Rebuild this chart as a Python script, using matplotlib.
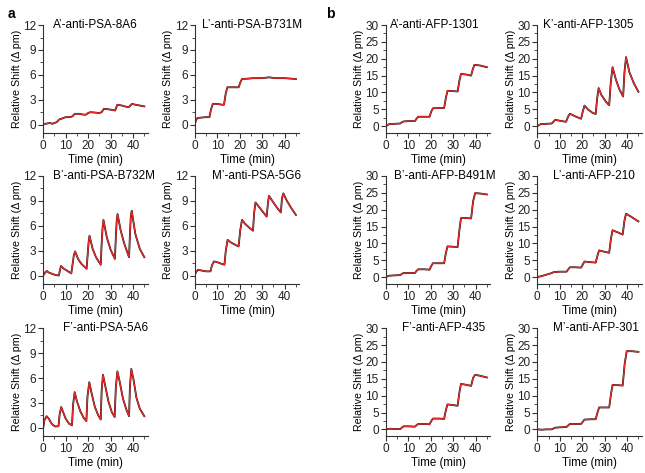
import matplotlib
matplotlib.use('Agg')
import matplotlib.pyplot as plt
from matplotlib.ticker import MultipleLocator

plt.rcParams['font.family'] = ['Liberation Sans', 'DejaVu Sans']

# ---- panel a: PSA antibodies (time in min, shift in pm) ----
t_psa_8a6 = [0, 1, 2, 3, 4, 5, 6, 7, 8, 10, 12, 13, 14, 16, 18, 19, 20, 21, 23, 25, 26, 27,
             29, 31, 32, 33, 35, 37, 38, 39.5, 41, 43, 45]
y_psa_8a6 = [0.0, 0.1, 0.15, 0.2, 0.1, 0.2, 0.3, 0.6, 0.7, 0.9, 0.9, 1.0, 1.3, 1.3, 1.2, 1.2, 1.4, 1.5, 1.45, 1.4, 1.5, 1.9,
             1.85, 1.75, 1.7, 2.4, 2.3, 2.15, 2.1, 2.5, 2.4, 2.3, 2.2]

t_psa_b731m = [0, 0.5, 1.2, 3, 5, 6.5, 7.2, 8, 10, 12, 13, 13.8, 14.5, 17, 19.5, 20.3, 21, 24, 26, 30, 33, 36, 40, 45]
y_psa_b731m = [0.0, 0.5, 0.8, 0.85, 0.9, 0.9, 1.8, 2.5, 2.5, 2.4, 2.4, 3.8, 4.5, 4.5, 4.5, 5.1, 5.5, 5.55, 5.6, 5.6, 5.7, 5.6, 5.6, 5.5]

t_psa_b732m = [0, 1, 1.6, 2.5, 4, 5.5, 7, 7.4, 7.9, 9, 10.5, 12.5, 13.2, 13.6, 14.2, 15.5, 17, 19.3, 19.8, 20.2, 20.6,
               22, 23.5, 25.6, 26.0, 26.4, 26.8, 28.3, 30, 31.9, 32.3, 32.7, 33.1, 34.5, 36, 38.2, 38.6, 39.0, 39.4,
               41, 43, 45]
y_psa_b732m = [0.0, 0.4, 0.55, 0.35, 0.2, 0.05, 0.0, 0.6, 1.15, 0.85, 0.6, 0.25, 1.6, 2.4, 2.9, 2.0, 1.4, 0.8, 2.6, 4.0, 4.8,
               3.2, 2.2, 1.3, 3.8, 5.7, 6.7, 4.6, 3.1, 2.0, 4.5, 6.6, 7.4, 5.4, 3.9, 2.2, 5.0, 7.2, 7.8,
               5.0, 3.2, 2.2]

t_psa_5g6 = [0, 0.5, 1.5, 3, 5, 7, 7.6, 8.5, 10, 12, 13.2, 13.8, 14.6, 16, 18, 19.5, 20.2, 21, 22.5, 24.5, 25.9,
             26.4, 27, 28.5, 30.5, 32, 32.5, 33, 34.5, 36.5, 38.3, 38.8, 39.4, 41, 43, 45]
y_psa_5g6 = [0.0, 0.4, 0.7, 0.6, 0.5, 0.5, 1.2, 1.7, 1.6, 1.4, 1.3, 3.0, 4.3, 4.0, 3.7, 3.5, 5.4, 6.7, 6.2, 5.7, 5.4,
             7.5, 8.8, 8.3, 7.6, 7.1, 8.6, 9.6, 9.0, 8.2, 7.6, 9.3, 9.9, 9.0, 8.1, 7.3]

t_psa_5a6 = [0, 0.5, 1.5, 2.5, 3.5, 4.5, 5.5, 6.8, 7.3, 8, 9, 10, 11.5, 12.8, 13.3, 14, 15, 16.5, 18, 19.2, 19.7,
             20.5, 21.5, 23, 24.5, 25.6, 26.0, 26.6, 27.5, 29, 30.5, 31.8, 32.3, 33, 34, 35.5, 37, 38.2, 38.6,
             39.2, 40.2, 41.5, 43, 45]
y_psa_5a6 = [0.0, 0.9, 1.4, 1.1, 0.6, 0.3, 0.15, 0.2, 1.6, 2.5, 1.8, 1.1, 0.5, 0.3, 2.8, 4.3, 3.2, 2.0, 1.2, 0.8, 3.8,
             5.5, 4.2, 2.5, 1.5, 1.0, 4.5, 6.4, 5.2, 3.2, 1.9, 1.3, 4.8, 6.8, 5.6, 3.5, 2.2, 1.4, 5.0,
             7.1, 5.8, 3.6, 2.3, 1.4]

# ---- panel b: AFP antibodies ----
t_afp_1301 = [0, 1.5, 4, 6.5, 7.3, 8, 10, 13, 13.8, 14.5, 17, 19.5, 20.3, 21, 24, 26, 26.8, 27.5, 30, 32,
              32.8, 33.5, 36, 38, 38.8, 39.5, 42, 45]
y_afp_1301 = [0.0, 0.6, 0.7, 0.8, 1.2, 1.4, 1.5, 1.5, 2.3, 2.8, 2.8, 2.8, 4.4, 5.3, 5.4, 5.4, 8.5, 10.5, 10.4, 10.3,
              13.5, 15.5, 15.3, 15.0, 17.0, 18.2, 18.0, 17.5]

t_afp_1305 = [0, 1.5, 4, 6.5, 7.3, 8, 10, 12.8, 13.7, 14.5, 16, 18, 19.5, 20.3, 21, 22.5, 24.5, 26, 26.6, 27.3,
              28.5, 30.5, 32, 32.7, 33.5, 35, 36.5, 38.2, 38.8, 39.5, 41, 43, 45]
y_afp_1305 = [0.0, 0.6, 0.7, 0.8, 1.4, 1.9, 1.6, 1.3, 2.8, 3.7, 3.2, 2.6, 2.2, 4.5, 6.1, 5.0, 4.0, 3.6, 8.0, 11.3,
              9.3, 7.3, 6.2, 13.0, 17.5, 13.8, 11.0, 8.8, 16.0, 20.5, 16.0, 12.7, 10.2]

t_afp_b491m = [0, 1.5, 4, 6.5, 7.3, 8, 10, 13, 13.8, 14.5, 17, 19.5, 20.3, 21, 24, 26, 26.8, 27.5, 30, 32,
               32.8, 33.5, 36, 38, 38.9, 39.8, 42, 45]
y_afp_b491m = [0.0, 0.4, 0.5, 0.6, 1.0, 1.2, 1.2, 1.2, 1.9, 2.3, 2.3, 2.2, 3.3, 4.1, 4.1, 4.1, 7.2, 9.1, 9.0, 8.9,
               14.0, 17.5, 17.5, 17.4, 22.5, 24.9, 24.8, 24.5]

t_afp_210 = [0, 2, 4, 6, 7.5, 10, 13, 13.8, 14.5, 17, 19.5, 20.3, 21, 24, 26, 26.8, 27.5, 30, 32,
             32.8, 33.5, 36, 38, 38.8, 39.5, 42, 45]
y_afp_210 = [0.0, 0.3, 0.7, 1.1, 1.5, 1.6, 1.6, 2.3, 2.9, 2.9, 2.8, 3.8, 4.6, 4.4, 4.3, 6.4, 7.9, 7.5, 7.2,
             11.5, 13.9, 13.2, 12.6, 16.8, 18.8, 17.8, 16.5]

t_afp_435 = [0, 2, 4, 6.5, 7.3, 8, 10, 13, 13.8, 14.5, 17, 19.5, 20.3, 21, 24, 26, 26.8, 27.5, 30, 32,
             32.8, 33.5, 36, 38, 38.9, 39.8, 42, 45]
y_afp_435 = [0.0, 0.2, 0.1, 0.1, 0.6, 0.9, 0.9, 0.8, 1.3, 1.6, 1.6, 1.5, 2.5, 3.2, 3.2, 3.1, 5.8, 7.4, 7.2, 7.0,
             11.0, 13.5, 13.2, 12.9, 15.3, 16.2, 15.9, 15.4]

t_afp_301 = [0, 2, 4, 6.5, 7.3, 8, 10, 13, 13.8, 14.5, 17, 19.5, 20.3, 21, 24, 26, 26.8, 27.5, 30, 32,
             32.8, 33.5, 36, 38, 38.9, 39.8, 42, 45]
y_afp_301 = [0.0, -0.1, 0.0, 0.0, 0.3, 0.5, 0.6, 0.7, 1.2, 1.6, 1.6, 1.6, 2.3, 2.9, 3.0, 3.0, 5.0, 6.5, 6.5, 6.5,
             10.5, 13.2, 13.1, 13.0, 19.5, 23.2, 23.2, 23.0]

titles = ['A\u2019-anti-PSA-8A6', 'L\u2019-anti-PSA-B731M', 'B\u2019-anti-PSA-B732M', 'M\u2019-anti-PSA-5G6',
          'F\u2019-anti-PSA-5A6',
          'A\u2019-anti-AFP-1301', 'K\u2019-anti-AFP-1305', 'B\u2019-anti-AFP-B491M', 'L\u2019-anti-AFP-210',
          'F\u2019-anti-AFP-435', 'M\u2019-anti-AFP-301']
series = [(t_psa_8a6, y_psa_8a6), (t_psa_b731m, y_psa_b731m), (t_psa_b732m, y_psa_b732m),
          (t_psa_5g6, y_psa_5g6), (t_psa_5a6, y_psa_5a6),
          (t_afp_1301, y_afp_1301), (t_afp_1305, y_afp_1305), (t_afp_b491m, y_afp_b491m),
          (t_afp_210, y_afp_210), (t_afp_435, y_afp_435), (t_afp_301, y_afp_301)]

# axes positions in figure fraction (left, bottom)
cols_x = [0.067, 0.302, 0.598, 0.833]
rows_y = [0.719, 0.400, 0.078]
slots = [(0, 0), (0, 1), (1, 0), (1, 1), (2, 0),
         (0, 2), (0, 3), (1, 2), (1, 3), (2, 2), (2, 3)]
w, h = 0.162, 0.228
# left edge of each panel title, as a fraction of axes width
title_x = [0.09, 0.07, 0.09, 0.16, 0.19, 0.04, 0.05, 0.08, 0.15, 0.16, 0.15]

fig = plt.figure(figsize=(6.45, 4.73), dpi=100)

for i, ((r, c), title, (t, y)) in enumerate(zip(slots, titles, series)):
    ax = fig.add_axes([cols_x[c], rows_y[r], w, h])
    ax.plot(t, y, color='#111111', lw=1.3)
    ax.plot(t, y, color='#ee2a2a', lw=0.9)
    ax.set_xlim(0, 46.5)
    if i < 5:
        ax.set_ylim(-1, 12)
        ax.yaxis.set_major_locator(MultipleLocator(3))
        ax.yaxis.set_minor_locator(MultipleLocator(1.5))
    else:
        ax.set_ylim(-2, 30)
        ax.yaxis.set_major_locator(MultipleLocator(5))
        ax.yaxis.set_minor_locator(MultipleLocator(2.5))
    ax.xaxis.set_major_locator(MultipleLocator(10))
    ax.xaxis.set_minor_locator(MultipleLocator(5))
    for s in ['top', 'right']:
        ax.spines[s].set_visible(False)
    for s in ['left', 'bottom']:
        ax.spines[s].set_linewidth(0.8)
        ax.spines[s].set_color('#333333')
    ax.tick_params(which='major', direction='out', length=3.5, width=0.8, labelsize=8.5, pad=1.5, colors='#333333')
    ax.tick_params(which='minor', direction='out', length=2, width=0.6, colors='#333333')
    ax.tick_params(labelcolor='#222222')
    ax.set_xlabel('Time (min)', fontsize=8.3, labelpad=1.5)
    ax.set_ylabel('Relative Shift (\u0394 pm)', fontsize=7.7, labelpad=1)
    ax.text(title_x[i], 1.0, title, transform=ax.transAxes, ha='left', va='center', fontsize=8.5)

fig.text(0.012, 0.985, 'a', fontsize=10, fontweight='bold', va='top')
fig.text(0.505, 0.985, 'b', fontsize=10, fontweight='bold', va='top')

fig.savefig('out.png', dpi=100)
